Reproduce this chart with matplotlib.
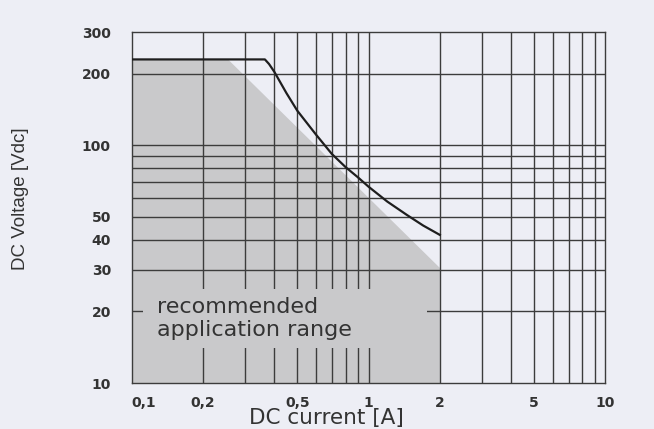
import matplotlib.pyplot as plt
from matplotlib.patches import Rectangle

strom = [0.1, 0.365, 0.38, 0.4, 0.45, 0.5, 0.6, 0.7, 0.8, 0.9, 1.0, 1.2, 1.45, 1.7, 2.0]
spannung = [230, 230, 220, 204, 166, 140, 111, 92, 81, 73.5, 67, 58, 51, 46, 42]

# graue Flaeche (empfohlener Bereich)
bereich_x = [0.1, 0.1, 0.255, 2.0, 2.0]
bereich_y = [10, 230, 230, 30.5, 10]

xticks = [0.1, 0.2, 0.5, 1, 2, 5, 10]
xlabels = ["0,1", "0,2", "0,5", "1", "2", "5", "10"]
yticks = [10, 20, 30, 40, 50, 100, 200, 300]
ylabels = ["10", "20", "30", "40", "50", "100", "200", "300"]
xgrid = [0.2, 0.3, 0.4, 0.5, 0.6, 0.7, 0.8, 0.9, 1, 2, 3, 4, 5, 6, 7, 8, 9]
ygrid = [20, 30, 40, 50, 60, 70, 80, 90, 100, 200]

hg = "#edeef5"
grau = "#c9c9cb"
linie = "#3c3c3c"

fig = plt.figure(figsize=(6.54, 4.29), dpi=100, facecolor=hg)
ax = fig.add_axes([0.2014, 0.1072, 0.7243, 0.8182])
ax.set_facecolor(hg)
ax.set_xscale("log")
ax.set_yscale("log")
ax.set_xlim(0.1, 10)
ax.set_ylim(10, 300)

ax.fill(bereich_x, bereich_y, color=grau, lw=0, zorder=1)

for g in xgrid:
    ax.axvline(g, color=linie, lw=1.0, zorder=2)
for g in ygrid:
    ax.axhline(g, color=linie, lw=1.0, zorder=2)

# Kasten hinter dem Text
ax.add_patch(Rectangle((0.1119, 14.1), 1.761 - 0.1119, 24.8 - 14.1,
                       facecolor=grau, edgecolor="none", zorder=3))
ax.text(0.1275, 19.8, "recommended", fontsize=16, color="#333333", zorder=4)
ax.text(0.1275, 15.8, "application range", fontsize=16, color="#333333", zorder=4)

ax.plot(strom, spannung, color="#1e1e1e", lw=1.6, zorder=5)

ax.minorticks_off()
ax.set_xticks(xticks)
ax.set_xticklabels(xlabels)
ax.set_yticks(yticks)
ax.set_yticklabels(ylabels)
ax.tick_params(length=0, labelsize=10, labelcolor="#333333")
ax.tick_params(axis="y", pad=15)
ax.tick_params(axis="x", pad=9)
for t in ax.get_xticklabels() + ax.get_yticklabels():
    t.set_fontweight("bold")
ax.get_xticklabels()[0].set_horizontalalignment("left")

for s in ax.spines.values():
    s.set_color(linie)
    s.set_linewidth(1.0)

fig.text(21 / 654, 1 - 199 / 429, "DC Voltage [Vdc]", rotation=90,
         ha="center", va="center", fontsize=13.5, color="#333333",
         family=["DejaVu Sans Condensed", "Liberation Sans"])
fig.text(326 / 654, 1 / 429, "DC current [A]", ha="center", va="bottom",
         fontsize=15.5, color="#333333")

fig.savefig("out.png", dpi=100, facecolor=hg)
